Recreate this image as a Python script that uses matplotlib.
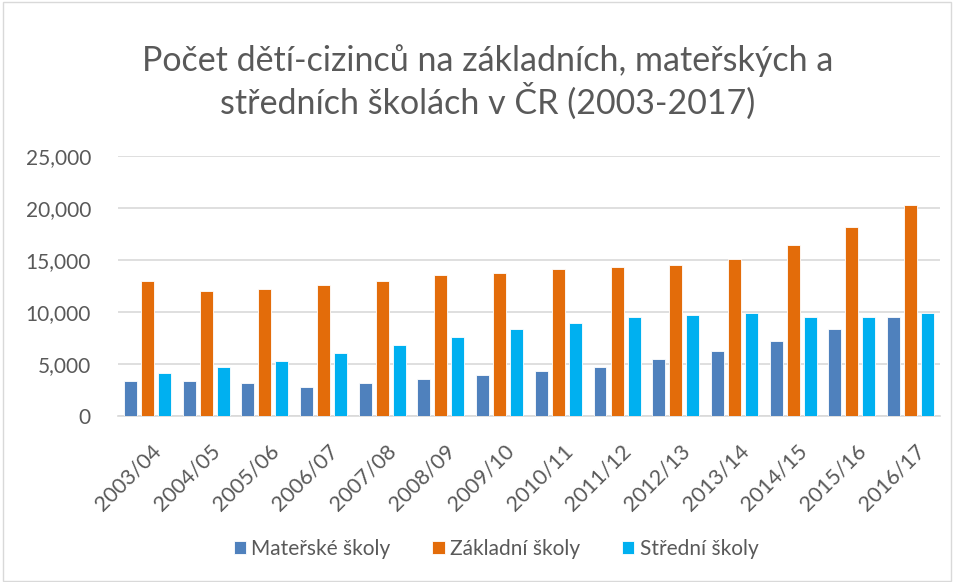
import matplotlib
matplotlib.use("Agg")
import matplotlib.pyplot as plt
import matplotlib.transforms as mtransforms
import numpy as np
from matplotlib.ticker import FuncFormatter
from matplotlib.patches import Rectangle

plt.rcParams['font.family'] = ['Lato', 'DejaVu Sans']

years = ["2003/04", "2004/05", "2005/06", "2006/07", "2007/08", "2008/09", "2009/10",
         "2010/11", "2011/12", "2012/13", "2013/14", "2014/15", "2015/16", "2016/17"]
materske = [3330, 3330, 3140, 2760, 3140, 3530, 3910, 4290, 4680, 5450, 6220, 7180, 8330, 9490]
zakladni = [12950, 12000, 12180, 12560, 12950, 13530, 13720, 14100, 14290, 14490, 15060, 16410, 18140, 20260]
stredni = [4100, 4680, 5260, 6030, 6790, 7560, 8330, 8910, 9490, 9680, 9870, 9490, 9490, 9870]

series = [("Mateřské školy", materske, "#4F81BD"),
          ("Základní školy", zakladni, "#E36C0A"),
          ("Střední školy", stredni, "#00B0F0")]

fig = plt.figure(figsize=(9.54, 5.82), dpi=100)
ax = fig.add_axes([0.1237, 0.2852, 0.8616, 0.4468])

x = np.arange(len(years))
w = 0.22
off = 0.29
for i, (name, vals, col) in enumerate(series):
    ax.bar(x + (i - 1) * off, vals, width=w, color=col, label=name,
           edgecolor="white", linewidth=0.6, zorder=3)

ax.set_xlim(-0.5, len(years) - 0.5)
ax.set_ylim(0, 25000)
ax.set_yticks(np.arange(0, 25001, 5000))
ax.yaxis.set_major_formatter(FuncFormatter(lambda v, p: f"{int(v):,}"))
ax.set_xticks(x)
ax.set_xticklabels(years, rotation=45, ha="right", rotation_mode="anchor")
ax.tick_params(axis="both", length=0, colors="#595959")
ax.tick_params(axis="y", pad=19.5, labelsize=15)
ax.tick_params(axis="x", pad=9, labelsize=15.5)
shift = mtransforms.ScaledTranslation(0.04, -0.12, fig.dpi_scale_trans)
for lab in ax.get_xticklabels():
    lab.set_transform(lab.get_transform() + shift)
ax.grid(axis="y", color="#D9D9D9", linewidth=1.2, zorder=0)
for s in ["top", "right", "left"]:
    ax.spines[s].set_visible(False)
ax.spines["bottom"].set_color("#D9D9D9")
ax.spines["bottom"].set_linewidth(1.2)

fig.text(0.511, 0.859, "Počet dětí-cizinců na základních, mateřských a\nstředních školách v ČR (2003-2017)",
         ha="center", va="center", fontsize=24.5, color="#595959", linespacing=1.2)

leg = fig.legend(loc="center", bbox_to_anchor=(0.52, 0.057), ncol=3, frameon=False,
                 fontsize=15, handlelength=0.6, handleheight=0.6, handletextpad=0.25,
                 columnspacing=2.0)
for t in leg.get_texts():
    t.set_color("#595959")

fig.patches.append(Rectangle((0.003, 0.002), 0.994, 0.995, transform=fig.transFigure,
                             fill=False, edgecolor="#D9D9D9", linewidth=1))

fig.savefig("out.png", dpi=100)
